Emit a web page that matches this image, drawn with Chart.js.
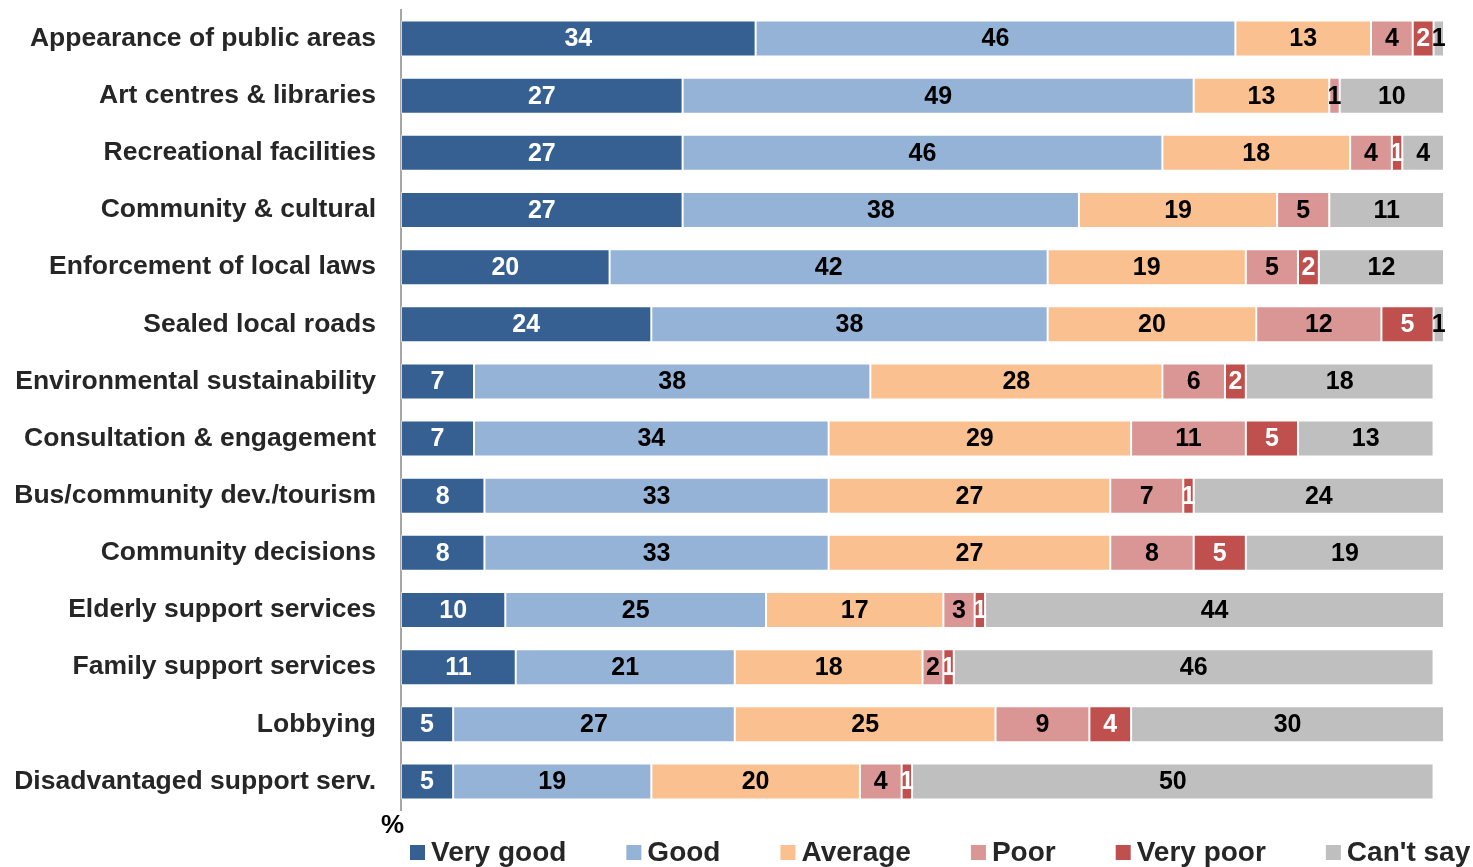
<!DOCTYPE html>
<html>
<head>
<meta charset="utf-8">
<script src="https://cdn.jsdelivr.net/npm/chart.js@4.4.1/dist/chart.umd.min.js"></script>
<style>
  html, body { margin: 0; padding: 0; background: #ffffff; }
  #wrap { width: 1473px; height: 867px; position: relative; }
</style>
</head>
<body>
<div id="wrap"><canvas id="chart" width="1473" height="867"></canvas></div>
<script>
// Service areas, top to bottom
const categories = [
  'Appearance of public areas',
  'Art centres & libraries',
  'Recreational facilities',
  'Community & cultural',
  'Enforcement of local laws',
  'Sealed local roads',
  'Environmental sustainability',
  'Consultation & engagement',
  'Bus/community dev./tourism',
  'Community decisions',
  'Elderly support services',
  'Family support services',
  'Lobbying',
  'Disadvantaged support serv.'
];

// Rating shares, in percent
const veryGood = [34, 27, 27, 27, 20, 24, 7, 7, 8, 8, 10, 11, 5, 5];
const good     = [46, 49, 46, 38, 42, 38, 38, 34, 33, 33, 25, 21, 27, 19];
const average  = [13, 13, 18, 19, 19, 20, 28, 29, 27, 27, 17, 18, 25, 20];
const poor     = [4, 1, 4, 5, 5, 12, 6, 11, 7, 8, 3, 2, 9, 4];
const veryPoor = [2, 0, 1, 0, 2, 5, 2, 5, 1, 5, 1, 1, 4, 1];
const cantSay  = [1, 10, 4, 11, 12, 1, 18, 13, 24, 19, 44, 46, 30, 50];

const seriesNames = ['Very good', 'Good', 'Average', 'Poor', 'Very poor', "Can't say"];
const seriesValues = [veryGood, good, average, poor, veryPoor, cantSay];
const seriesColors = ['#366092', '#95B3D7', '#FAC090', '#DA9694', '#C0504D', '#BFBFBF'];
const labelColors  = ['#ffffff', '#000000', '#000000', '#000000', '#ffffff', '#000000'];

const FONT = '"Liberation Sans", Arial, Helvetica, sans-serif';

// Value labels centred inside each segment
const segmentLabels = {
  id: 'segmentLabels',
  afterDatasetsDraw(chart) {
    const ctx = chart.ctx;
    ctx.save();
    ctx.font = 'bold 25px ' + FONT;
    ctx.textAlign = 'center';
    ctx.textBaseline = 'middle';
    chart.data.datasets.forEach((ds, di) => {
      const meta = chart.getDatasetMeta(di);
      meta.data.forEach((bar, i) => {
        const v = ds.data[i];
        if (!v) return;
        const x = (bar.x + bar.base) / 2;
        ctx.fillStyle = labelColors[di];
        ctx.fillText(String(v), x, bar.y + 1);
      });
    });
    ctx.restore();
  }
};

// Unit mark under the axis and the legend row along the bottom
const bottomDecor = {
  id: 'bottomDecor',
  afterDraw(chart) {
    const ctx = chart.ctx;
    const area = chart.chartArea;
    ctx.save();
    ctx.fillStyle = '#000000';
    ctx.font = 'bold 26px ' + FONT;
    ctx.textAlign = 'right';
    ctx.textBaseline = 'middle';
    ctx.fillText('%', area.left + 3, area.bottom + 16);

    ctx.font = 'bold 28px ' + FONT;
    ctx.textAlign = 'left';
    let x = area.left + 9;
    const y = area.bottom + 42;
    seriesNames.forEach((name, i) => {
      ctx.fillStyle = seriesColors[i];
      ctx.fillRect(x, y - 7, 15, 15);
      x += 21;
      ctx.fillStyle = '#262626';
      ctx.fillText(name, x, y + 1);
      x += ctx.measureText(name).width + 60;
    });
    ctx.restore();
  }
};

new Chart(document.getElementById('chart'), {
  type: 'bar',
  data: {
    labels: categories,
    datasets: seriesNames.map((name, i) => ({
      label: name,
      data: seriesValues[i],
      backgroundColor: seriesColors[i],
      borderColor: 'rgba(255,255,255,0.5)',
      borderWidth: 1,
      borderSkipped: false,
      barPercentage: 0.63,
      categoryPercentage: 1.0
    }))
  },
  options: {
    indexAxis: 'y',
    responsive: false,
    animation: false,
    devicePixelRatio: 1,
    layout: { padding: { top: 10, right: 29, bottom: 57, left: 0 } },
    plugins: {
      legend: { display: false },
      tooltip: { enabled: false }
    },
    scales: {
      x: {
        stacked: true,
        min: 0,
        max: 100,
        display: false
      },
      y: {
        stacked: true,
        grid: { display: false, drawTicks: false },
        border: { display: true, color: '#a6a6a6', width: 2 },
        ticks: {
          padding: 25,
          color: '#262626',
          font: { family: FONT, size: 26.5, weight: 'bold' }
        },
        afterFit(scale) {
          scale.width = 401;
          scale.paddingTop = 0;
          scale.paddingBottom = 0;
        }
      }
    }
  },
  plugins: [segmentLabels, bottomDecor]
});
</script>
</body>
</html>
